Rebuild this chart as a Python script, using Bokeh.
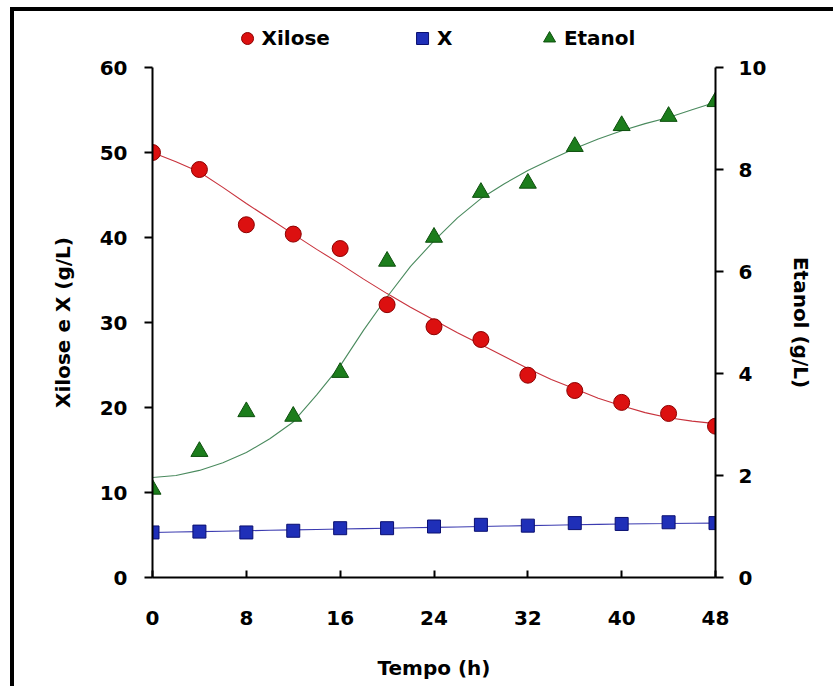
from bokeh.plotting import figure
from bokeh.layouts import column
from bokeh.models import Range1d, LinearAxis, FixedTicker, Legend, LegendItem
from bokeh.embed import file_html
from bokeh.resources import INLINE

# ---- data ----
tempo = [0, 4, 8, 12, 16, 20, 24, 28, 32, 36, 40, 44, 48]
xilose = [50.0, 48.0, 41.5, 40.4, 38.7, 32.1, 29.5, 28.0, 23.8, 22.0, 20.6, 19.3, 17.8]
biomassa = [5.3, 5.4, 5.3, 5.5, 5.8, 5.8, 6.0, 6.2, 6.1, 6.4, 6.3, 6.5, 6.4]
etanol = [1.73, 2.47, 3.25, 3.16, 4.02, 6.20, 6.67, 7.55, 7.73, 8.45, 8.86, 9.04, 9.33]

# fitted curves (every 2 h)
tempo_fit = [0, 2, 4, 6, 8, 10, 12, 14, 16, 18, 20, 22, 24,
             26, 28, 30, 32, 34, 36, 38, 40, 42, 44, 46, 48]
xilose_fit = [50.0, 48.9, 47.7, 45.9, 44.0, 42.2, 40.4, 38.6, 36.9, 35.1, 33.4, 31.8, 30.3,
              28.8, 27.4, 26.0, 24.6, 23.3, 22.2, 21.1, 20.2, 19.4, 18.8, 18.4, 18.1]
biomassa_fit = [5.30, 5.35, 5.40, 5.45, 5.50, 5.55, 5.60, 5.65, 5.70, 5.75, 5.80, 5.85, 5.90,
                5.95, 6.00, 6.05, 6.10, 6.15, 6.20, 6.25, 6.30, 6.33, 6.35, 6.38, 6.40]
etanol_fit = [1.96, 2.00, 2.10, 2.25, 2.45, 2.72, 3.05, 3.58, 4.15, 4.85, 5.50, 6.10, 6.60,
              7.05, 7.43, 7.72, 7.98, 8.20, 8.41, 8.60, 8.76, 8.90, 9.02, 9.17, 9.32]

x_ticks = [0, 8, 16, 24, 32, 40, 48]
y_ticks = [0, 10, 20, 30, 40, 50, 60]
y2_ticks = [0, 2, 4, 6, 8, 10]

series_names = ["Xilose", "X", "Etanol"]

FONT = "DejaVu Sans"
FS = "20px"

RED = dict(marker="circle", size=16, fill_color="#dc1010", line_color="#8c0000", line_width=1)
BLUE = dict(marker="square", size=13, fill_color="#1f2fb8", line_color="#0a0f70", line_width=1)
GREEN = dict(marker="triangle", size=17, fill_color="#1c7d1c", line_color="#0d4f0d", line_width=1)

# ---------- main plot ----------
p = figure(width=819, height=629, output_backend="svg", toolbar_location=None,
           x_range=Range1d(0, 48), y_range=Range1d(0, 60),
           min_border_left=138, min_border_right=118, min_border_top=10, min_border_bottom=109)
p.extra_y_ranges = {"et": Range1d(0, 10)}
p.outline_line_color = None
p.xgrid.visible = False
p.ygrid.visible = False
p.background_fill_color = "white"
p.border_fill_color = "white"

p.line(tempo_fit, xilose_fit, line_color="#c8323c", line_width=1.1)
p.line(tempo_fit, biomassa_fit, line_color="#3b3bb0", line_width=1.1)
p.line(tempo_fit, etanol_fit, line_color="#4a8a5e", line_width=1.1, y_range_name="et")

p.scatter(tempo, xilose, **RED)
p.scatter(tempo, biomassa, **BLUE)
p.scatter(tempo, etanol, y_range_name="et", **GREEN)


def style_axis(ax):
    ax.axis_line_width = 2
    ax.axis_line_color = "black"
    ax.major_tick_line_width = 2
    ax.major_tick_line_color = "black"
    ax.minor_tick_line_color = None
    ax.major_label_text_font = FONT
    ax.major_label_text_font_style = "bold"
    ax.major_label_text_font_size = FS
    ax.major_label_text_color = "black"
    ax.axis_label_text_font = FONT
    ax.axis_label_text_font_style = "bold"
    ax.axis_label_text_font_size = FS
    ax.axis_label_text_color = "black"


style_axis(p.xaxis[0])
style_axis(p.yaxis[0])

p.xaxis.ticker = FixedTicker(ticks=x_ticks)
p.xaxis.major_tick_in = 7
p.xaxis.major_tick_out = 0
p.xaxis.major_label_standoff = 33
p.xaxis.axis_label = "Tempo (h)"
p.xaxis.axis_label_standoff = 28

p.yaxis.ticker = FixedTicker(ticks=y_ticks)
p.yaxis.major_tick_in = 0
p.yaxis.major_tick_out = 8
p.yaxis.major_label_standoff = 17
p.yaxis.axis_label = "Xilose e X (g/L)"
p.yaxis.axis_label_standoff = 22

ax2 = LinearAxis(y_range_name="et", ticker=FixedTicker(ticks=y2_ticks),
                 axis_label="Etanol (g/L)")
style_axis(ax2)
ax2.major_tick_in = 0
ax2.major_tick_out = 8
ax2.major_label_standoff = 15
ax2.axis_label_standoff = 20
p.add_layout(ax2, "right")

# ---------- legend strip on top (same data, outside its visible range) ----------
leg = figure(width=819, height=46, output_backend="svg", toolbar_location=None,
             x_range=Range1d(0, 48), y_range=Range1d(-2, -1),
             min_border_left=138, min_border_right=118, min_border_top=0, min_border_bottom=0)
leg.xaxis.visible = False
leg.yaxis.visible = False
leg.xgrid.visible = False
leg.ygrid.visible = False
leg.outline_line_color = None
lr1 = leg.scatter(tempo, xilose, **RED)
lr2 = leg.scatter(tempo, biomassa, **BLUE)
lr3 = leg.scatter(tempo, etanol, **GREEN)
legend = Legend(items=[LegendItem(label=series_names[0], renderers=[lr1]),
                       LegendItem(label=series_names[1], renderers=[lr2]),
                       LegendItem(label=series_names[2], renderers=[lr3])],
                orientation="horizontal", location="bottom_center",
                label_text_font=FONT, label_text_font_style="bold",
                label_text_font_size=FS, label_text_color="black",
                glyph_width=30, glyph_height=30, label_standoff=0,
                spacing=77, padding=0, margin=4,
                border_line_color=None, background_fill_alpha=0)
leg.add_layout(legend, "center")

layout = column(leg, p, spacing=0)
layout.styles = {"margin-left": "10px", "margin-top": "7px",
                 "border-left": "4px solid black", "border-top": "4px solid black"}

open("out.html", "w").write(file_html(layout, INLINE))
